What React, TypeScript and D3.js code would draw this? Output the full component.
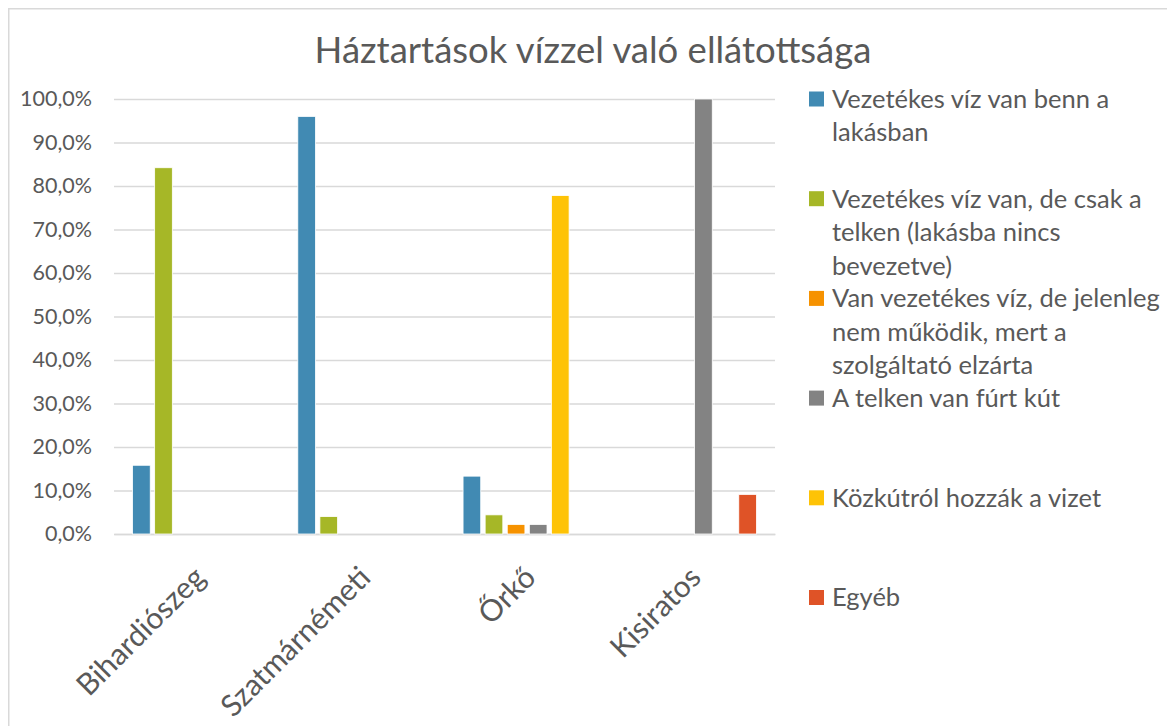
import React, { useEffect, useRef } from 'react';
import * as d3 from 'd3';

// adatok
const categories = ['Bihardiószeg', 'Szatmárnémeti', 'Őrkő', 'Kisiratos'];

const seriesNames = [
    'Vezetékes víz van benn a lakásban',
    'Vezetékes víz van, de csak a telken (lakásba nincs bevezetve)',
    'Van vezetékes víz, de jelenleg nem működik, mert a szolgáltató elzárta',
    'A telken van fúrt kút',
    'Közkútról hozzák a vizet',
    'Egyéb'
];

// legend sorai, ahogy az eredetiben tördelve vannak
const legendLines = [
    ['Vezetékes víz van benn a', 'lakásban'],
    ['Vezetékes víz van, de csak a', 'telken (lakásba nincs', 'bevezetve)'],
    ['Van vezetékes víz, de jelenleg', 'nem működik, mert a', 'szolgáltató elzárta'],
    ['A telken van fúrt kút'],
    ['Közkútról hozzák a vizet'],
    ['Egyéb']
];

const vezetekesBenn = [15.8, 96.0, 13.3, 0];
const vezetekesTelken = [84.2, 4.0, 4.4, 0];
const elzarta = [0, 0, 2.2, 0];
const furtKut = [0, 0, 2.2, 100];
const kozkut = [0, 0, 77.8, 0];
const egyeb = [0, 0, 0, 9.1];

const seriesValues = [vezetekesBenn, vezetekesTelken, elzarta, furtKut, kozkut, egyeb];

const colors = ['#418AB3', '#A6B727', '#F69200', '#838383', '#FEC306', '#DF5327'];

const yTicks = [0, 10, 20, 30, 40, 50, 60, 70, 80, 90, 100];

const title = 'Háztartások vízzel való ellátottsága';

const App = () => {
    const ref = useRef<SVGSVGElement>(null);

    useEffect(() => {
        const width = 1167;
        const height = 718;
        const svg = d3.select(ref.current);
        svg.selectAll('*').remove();

        const textColor = '#595959';
        const font = 'Lato, "Open Sans", sans-serif';

        // oldal-koordinátákban rajzolunk (body margin 8px)
        const g = svg.append('g').attr('transform', 'translate(-8,-8)');

        // keret
        g.append('path')
            .attr('d', `M8.75,${height + 20}V8.75H${width + 20}`)
            .attr('fill', 'none')
            .attr('stroke', '#d9d9d9')
            .attr('stroke-width', 1.5);

        const plot = { left: 114, right: 775, top: 99, bottom: 534 };

        const x0 = d3.scaleBand<string>()
            .domain(categories)
            .range([plot.left, plot.right]);

        const x1 = d3.scaleBand<number>()
            .domain(d3.range(seriesNames.length))
            .range([0, x0.bandwidth()])
            .paddingInner(0.2)
            .paddingOuter(0.84);

        const y = d3.scaleLinear()
            .domain([0, 100])
            .range([plot.bottom, plot.top]);

        const locale = d3.formatLocale({ decimal: ',', thousands: ' ', grouping: [3], currency: ['', ' Ft'] });
        const fmt = locale.format('.1f');

        // y tengely + rácsvonalak
        const yAxis = d3.axisLeft(y)
            .tickValues(yTicks)
            .tickSize(-(plot.right - plot.left))
            .tickPadding(22)
            .tickFormat(d => fmt(d as number) + '%');

        const gY = g.append('g')
            .attr('transform', `translate(${plot.left},0)`)
            .call(yAxis);
        gY.select('.domain').remove();
        gY.selectAll('line').attr('stroke', '#d9d9d9').attr('stroke-width', 1.3);
        gY.selectAll('text')
            .attr('fill', textColor)
            .style('font-family', font)
            .style('font-size', '21.5px');

        // x tengely
        const xAxis = d3.axisBottom(x0).tickSize(0).tickSizeOuter(0).tickPadding(0);
        const gX = g.append('g')
            .attr('transform', `translate(0,${plot.bottom})`)
            .call(xAxis);
        gX.select('.domain').attr('stroke', '#d9d9d9').attr('stroke-width', 1.3);
        gX.selectAll('text')
            .attr('fill', textColor)
            .style('font-family', font)
            .style('font-size', '30px')
            .attr('text-anchor', 'end')
            .attr('y', 0)
            .attr('dy', '0.35em')
            .attr('transform', 'translate(3,38) rotate(-45)');

        // oszlopok
        const groups = g.append('g')
            .selectAll('g')
            .data(categories)
            .enter()
            .append('g')
            .attr('transform', d => `translate(${x0(d)},0)`);

        groups.selectAll('rect')
            .data((d, i) => seriesValues.map((vals, s) => ({ s, v: vals[i] })).filter(e => e.v > 0))
            .enter()
            .append('rect')
            .attr('x', d => x1(d.s) as number)
            .attr('y', d => y(d.v))
            .attr('width', x1.bandwidth())
            .attr('height', d => y(0) - y(d.v))
            .attr('fill', d => colors[d.s])
            .attr('stroke', '#ffffff')
            .attr('stroke-width', 0.8);

        // cím
        g.append('text')
            .attr('x', 593)
            .attr('y', 63)
            .attr('text-anchor', 'middle')
            .attr('fill', textColor)
            .style('font-family', font)
            .style('font-size', '36.5px')
            .text(title);

        // jelmagyarázat
        const legendY = d3.scaleLinear().domain([0, 5]).range([99, 597.5]);
        const legend = g.append('g')
            .selectAll('g')
            .data(legendLines)
            .enter()
            .append('g')
            .attr('transform', (d, i) => `translate(809,${legendY(i)})`);

        legend.append('rect')
            .attr('x', 0)
            .attr('y', -7.5)
            .attr('width', 15)
            .attr('height', 15)
            .attr('fill', (d, i) => colors[i]);

        legend.append('text')
            .attr('fill', textColor)
            .style('font-family', font)
            .style('font-size', '25.5px')
            .selectAll('tspan')
            .data(d => d)
            .enter()
            .append('tspan')
            .attr('x', 23)
            .attr('y', (d, j) => j * 33.5)
            .attr('dy', '0.35em')
            .text(d => d);
    }, []);

    return (
        <svg ref={ref} width={1167} height={718} style={{ display: 'block' }}></svg>
    );
};

export default App;
